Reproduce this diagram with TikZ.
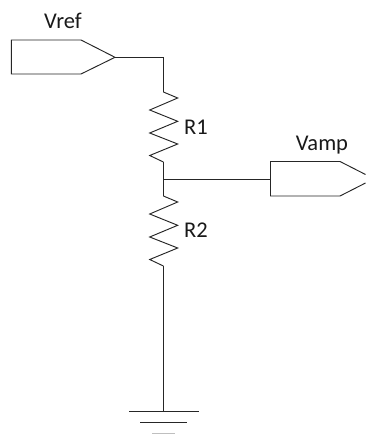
\documentclass[tikz,border=0pt]{standalone}
\usepackage{fontspec}
\setmainfont{Carlito}
\tikzset{
  wire/.style={draw=black!85,line width=0.95pt,line join=miter},
  lbl/.style={inner sep=0pt,font=\fontsize{22.5}{26}\selectfont,text=black!90},
}
\begin{document}
\begin{tikzpicture}[x=1pt,y=-1pt]
\useasboundingbox (0,0) rectangle (365,434);
% ports
\draw[wire] (11.3,40) -- (81,40) -- (115,57.3) coordinate (vreftip) -- (81,74) -- (11.3,74) -- cycle;
\draw[wire] (365.5,174.5) -- (340,161.5) -- (270.5,161.5) -- (270.5,196) -- (340,196) -- (365.5,183);
\coordinate (vampin) at (270.5,179);
% junctions
\coordinate (r1top) at (163.4,92);
\coordinate (r1bot) at (163.4,162);
\coordinate (junc) at (163.4,179);
\coordinate (r2top) at (163.4,196);
\coordinate (r2bot) at (163.4,266);
\coordinate (gnd) at (163.4,411);
% resistors
\draw[wire] (r1top) -- (177.7,98) -- (149.7,110) -- (177.7,121.3) -- (149.7,133) -- (177.7,144) -- (149.7,155.5) -- (r1bot);
\draw[wire] (r2top) -- (177.7,202) -- (149.7,214) -- (177.7,225.3) -- (149.7,237) -- (177.7,248) -- (149.7,259.5) -- (r2bot);
% wires
\draw[wire] (vreftip) -| (r1top);
\draw[wire] (r1bot) -- (r2top);
\draw[wire] (junc) -- (vampin);
\draw[wire] (r2bot) -- (gnd);
% ground
\draw[wire] (129,411) -- (199,411);
\draw[wire] (140,422.5) -- (187,422.5);
\draw[draw=black!25,line width=0.95pt] (152,433.4) -- (175,433.4);
% labels
\node[lbl] (vreflbl) at (63,21) {Vref};
\node[lbl] (vamplbl) at (322,145) {Vamp};
\node[lbl] (r1lbl) at (196,127.5) {R1};
\node[lbl] (r2lbl) at (196,230) {R2};
\end{tikzpicture}
\end{document}
